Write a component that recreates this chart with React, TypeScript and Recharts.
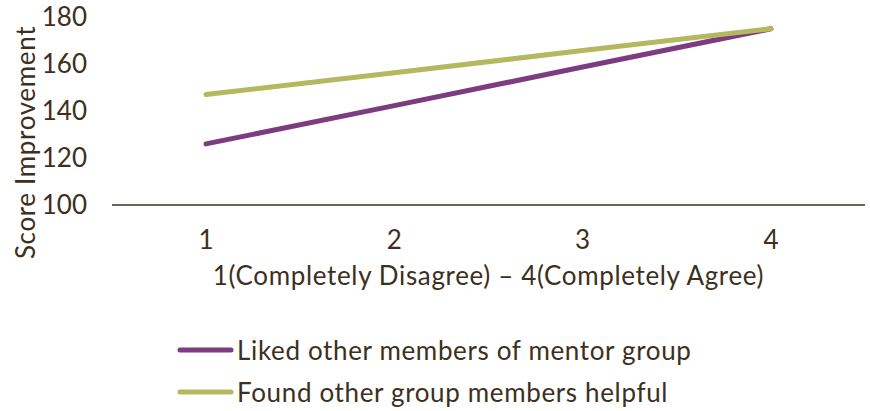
import React from 'react';
import { LineChart, Line, XAxis, YAxis, Label } from 'recharts';

const categories = ['1', '2', '3', '4'];
const likedValues = [126, 142.3, 158.7, 175];
const foundValues = [147, 156.3, 165.7, 175];
const yTicks = [100, 120, 140, 160, 180];
const seriesNames = ['Liked other members of mentor group', 'Found other group members helpful'];
const xAxisTitle = '1(Completely Disagree) \u2013 4(Completely Agree)';
const yAxisTitle = 'Score Improvement';

const data = categories.map((c, i) => ({ cat: c, liked: likedValues[i], found: foundValues[i] }));

const TEXT = '#3d3020';
const PURPLE = '#7d3b80';
const GREEN = '#b5b85e';
const FONT = 'Lato, sans-serif';
const FS = 26;
const LS = 0.65;

const legendItems = [
  { name: seriesNames[0], color: PURPLE },
  { name: seriesNames[1], color: GREEN },
];

export default function App() {
  return (
    <div style={{ position: 'absolute', left: 0, top: 0, width: 870, height: 411, background: '#fff' }}>
      <LineChart width={870} height={411} data={data} margin={{ top: 17, right: 5, bottom: 124, left: 0 }}>
        <XAxis
          dataKey="cat"
          axisLine={{ stroke: TEXT, strokeWidth: 1.5 }}
          tickLine={false}
          tickSize={0}
          tickMargin={26}
          padding={{ left: 94, right: 94 }}
          height={82}
          tick={{ fill: TEXT, fontSize: FS, fontFamily: FONT }}
        >
          <Label value={xAxisTitle} position="insideBottom" offset={2} fill={TEXT} fontSize={FS} fontFamily={FONT} letterSpacing={LS} />
        </XAxis>
        <YAxis
          domain={[100, 180]}
          ticks={yTicks}
          width={112}
          axisLine={false}
          tickLine={false}
          tickSize={0}
          tickMargin={25}
          tick={{ fill: TEXT, fontSize: FS, fontFamily: FONT }}
        />
        <text x={25} y={142.5} transform="rotate(-90 25 142.5)" textAnchor="middle" dominantBaseline="central" fill={TEXT} fontSize={FS} fontFamily={FONT} letterSpacing={LS}>
          {yAxisTitle}
        </text>
        <Line dataKey="liked" name={seriesNames[0]} stroke={PURPLE} strokeWidth={5} dot={false} isAnimationActive={false} strokeLinecap="round" />
        <Line dataKey="found" name={seriesNames[1]} stroke={GREEN} strokeWidth={5} dot={false} isAnimationActive={false} strokeLinecap="round" />
      </LineChart>
      {legendItems.map((it, i) => (
        <div
          key={it.name}
          style={{
            position: 'absolute',
            left: 176,
            top: 329 + i * 42,
            height: 42,
            display: 'flex',
            alignItems: 'center',
            fontFamily: FONT,
            fontSize: FS,
            letterSpacing: LS,
            color: TEXT,
            whiteSpace: 'nowrap',
          }}
        >
          <svg width={60} height={10} style={{ marginRight: 1 }}>
            <line x1={4} y1={5} x2={55} y2={5} stroke={it.color} strokeWidth={5} strokeLinecap="round" />
          </svg>
          <span>{it.name}</span>
        </div>
      ))}
    </div>
  );
}
